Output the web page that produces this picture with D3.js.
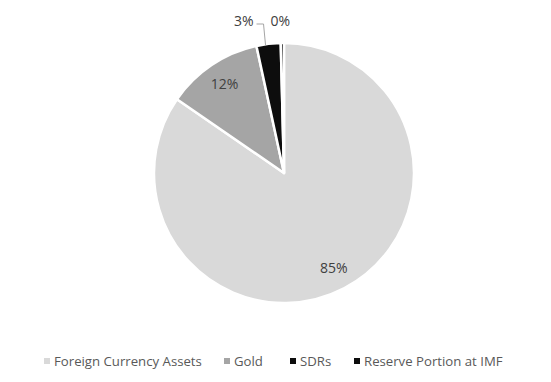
<!DOCTYPE html>
<html>
<head>
<meta charset="utf-8">
<script src="https://cdn.jsdelivr.net/npm/d3@7"></script>
<style>
  body { margin: 0; background: #fff; }
  text { font-family: "Open Sans", "Liberation Sans", sans-serif; }
</style>
</head>
<body>
<svg id="chart" width="551" height="382"></svg>
<script>
var categories = ["Foreign Currency Assets", "Gold", "SDRs", "Reserve Portion at IMF"];
var values = [84.6, 12.0, 3.0, 0.4];
var colors = ["#d9d9d9", "#a5a5a5", "#0d0d0d", "#0d0d0d"];
// label placement: inside slice or outside with leader
var labelInside = [true, true, false, false];

var svg = d3.select("#chart");
var cx = 284, cy = 173, radius = 130;

var data = categories.map(function(c, i){ return {name: c, value: values[i], color: colors[i], inside: labelInside[i]}; });

var pie = d3.pie().sort(null).value(function(d){ return d.value; });
var arc = d3.arc().innerRadius(0).outerRadius(radius);
var labelArc = d3.arc().innerRadius(107).outerRadius(107);
var total = d3.sum(values);

var g = svg.append("g").attr("transform", "translate(" + cx + "," + cy + ")");

var arcs = pie(data);

g.selectAll("path")
  .data(arcs)
  .enter()
  .append("path")
  .attr("d", arc)
  .attr("fill", function(d){ return d.data.color; })
  .attr("stroke", "#fff")
  .attr("stroke-width", 2.5)
  .attr("stroke-linejoin", "round");

var fmt = function(v){ return Math.round(v / total * 100) + "%"; };

// inside labels
g.selectAll("text.inside")
  .data(arcs.filter(function(d){ return d.data.inside; }))
  .enter()
  .append("text")
  .attr("class", "inside")
  .attr("x", function(d){ return labelArc.centroid(d)[0]; })
  .attr("y", function(d){ return labelArc.centroid(d)[1]; })
  .attr("dy", "0.35em")
  .attr("text-anchor", "middle")
  .attr("font-size", 14)
  .attr("fill", "#404040")
  .text(function(d){ return fmt(d.data.value); });

// outside labels (SDRs with leader, Reserve just above)
var outside = arcs.filter(function(d){ return !d.data.inside; });
var sdr = outside[0], res = outside[1];
var edge = d3.arc().innerRadius(radius).outerRadius(radius);
var sdrPt = edge.centroid(sdr);
var labelY = 21 - cy;

g.append("path")
  .attr("d", "M" + (sdrPt[0] - 3) + "," + (sdrPt[1] + 1) + "L" + (sdrPt[0] - 5) + "," + (labelY + 3) + "L" + (sdrPt[0] - 12) + "," + (labelY + 3))
  .attr("fill", "none")
  .attr("stroke", "#a5a5a5")
  .attr("stroke-width", 1);

g.append("text")
  .attr("x", sdrPt[0] - 15)
  .attr("y", labelY)
  .attr("dy", "0.35em")
  .attr("text-anchor", "end")
  .attr("font-size", 14)
  .attr("fill", "#404040")
  .text(fmt(sdr.data.value));

var resPt = edge.centroid(res);
g.append("text")
  .attr("x", resPt[0] - 2)
  .attr("y", labelY)
  .attr("dy", "0.35em")
  .attr("text-anchor", "middle")
  .attr("font-size", 14)
  .attr("fill", "#404040")
  .text(fmt(res.data.value));

// legend
var legend = svg.append("g").attr("transform", "translate(0,361)");
var itemX = [44, 224, 290, 354];
var items = legend.selectAll("g")
  .data(data)
  .enter()
  .append("g")
  .attr("transform", function(d, i){ return "translate(" + itemX[i] + ",0)"; });

items.append("rect")
  .attr("x", 0).attr("y", -3)
  .attr("width", 6).attr("height", 6)
  .attr("fill", function(d){ return d.color; });

items.append("text")
  .attr("x", 10)
  .attr("dy", "0.35em")
  .attr("font-size", 13.2)
  .attr("fill", "#595959")
  .text(function(d){ return d.name; });
</script>
</body>
</html>
